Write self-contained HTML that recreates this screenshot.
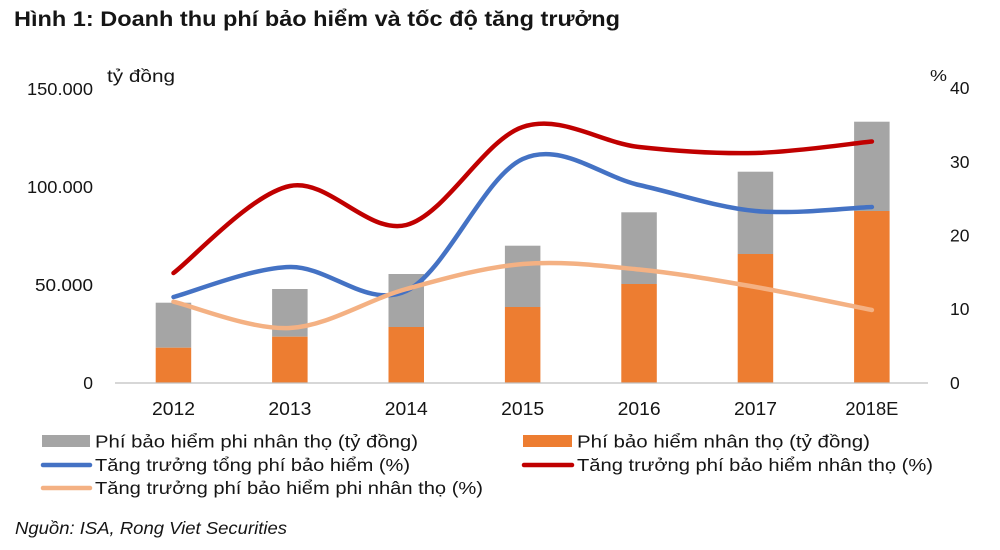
<!DOCTYPE html>
<html>
<head>
<meta charset="utf-8">
<style>
  html, body { margin: 0; padding: 0; background: #ffffff; }
  svg { display: block; }
  text { font-family: "Liberation Sans", "DejaVu Sans", sans-serif; fill: #151515; }
</style>
</head>
<body>
<svg width="1000" height="550" viewBox="0 0 1000 550" xmlns="http://www.w3.org/2000/svg">
  <rect x="0" y="0" width="1000" height="550" fill="#ffffff"/>

  <!-- Title -->
  <text x="14" y="26" font-size="21.5" font-weight="bold" fill="#111" textLength="606" lengthAdjust="spacingAndGlyphs">Hình 1: Doanh thu phí bảo hiểm và tốc độ tăng trưởng</text>

  <!-- Axis unit labels -->
  <text x="107" y="82" font-size="17.5" textLength="68" lengthAdjust="spacingAndGlyphs">tỷ đồng</text>
  <text x="930" y="81" font-size="16" textLength="17" lengthAdjust="spacingAndGlyphs">%</text>

  <!-- Left axis labels -->
  <g font-size="17.5" text-anchor="end">
    <text x="93" y="95" textLength="66" lengthAdjust="spacingAndGlyphs">150.000</text>
    <text x="93" y="193" textLength="66" lengthAdjust="spacingAndGlyphs">100.000</text>
    <text x="93" y="291" textLength="58" lengthAdjust="spacingAndGlyphs">50.000</text>
    <text x="93" y="389">0</text>
  </g>

  <!-- Right axis labels -->
  <g font-size="17.5">
    <text x="950" y="94">40</text>
    <text x="950" y="168">30</text>
    <text x="950" y="241.5">20</text>
    <text x="950" y="315">10</text>
    <text x="950" y="389">0</text>
  </g>

  <!-- Bars: gray (non-life) stacked above orange (life) -->
  <g>
    <rect x="155.7" y="302.7" width="35.5" height="45" fill="#a5a5a5"/>
    <rect x="155.7" y="347.7" width="35.5" height="35.3" fill="#ed7d31"/>

    <rect x="272.1" y="289" width="35.5" height="47.7" fill="#a5a5a5"/>
    <rect x="272.1" y="336.7" width="35.5" height="46.3" fill="#ed7d31"/>

    <rect x="388.5" y="274" width="35.5" height="53" fill="#a5a5a5"/>
    <rect x="388.5" y="327" width="35.5" height="56" fill="#ed7d31"/>

    <rect x="504.9" y="245.7" width="35.5" height="61.3" fill="#a5a5a5"/>
    <rect x="504.9" y="307" width="35.5" height="76" fill="#ed7d31"/>

    <rect x="621.3" y="212.3" width="35.5" height="71.7" fill="#a5a5a5"/>
    <rect x="621.3" y="284" width="35.5" height="99" fill="#ed7d31"/>

    <rect x="737.7" y="171.7" width="35.5" height="82.3" fill="#a5a5a5"/>
    <rect x="737.7" y="254" width="35.5" height="129" fill="#ed7d31"/>

    <rect x="854.1" y="121.7" width="35.5" height="89.3" fill="#a5a5a5"/>
    <rect x="854.1" y="211" width="35.5" height="172" fill="#ed7d31"/>
  </g>

  <!-- Baseline -->
  <line x1="115" y1="383" x2="928" y2="383" stroke="#bfbfbf" stroke-width="1.3"/>

  <!-- Lines -->
  <g fill="none" stroke-width="4.5" stroke-linecap="round" stroke-linejoin="round">
    <!-- Blue: total growth -->
    <path stroke="#4472c4" d="M173.5,297 C192.9,292 251.1,268 289.9,267 C328.7,266 367.5,309 406.3,291 C445.1,273 483.9,176.67 522.7,159 C561.5,141.33 600.3,176.33 639.1,185 C677.9,193.67 716.7,207.33 755.5,211 C794.3,214.67 852.5,207.67 871.9,207"/>
    <!-- Red: life growth -->
    <path stroke="#c00000" d="M173.5,273 C192.9,258.5 251.1,194 289.9,186 C328.7,178 367.5,234.8 406.3,225 C445.1,215.2 483.9,140 522.7,127 C561.5,114 600.3,142.7 639.1,147 C677.9,151.3 716.7,153.9 755.5,153 C794.3,152.1 852.5,143.4 871.9,141.5"/>
    <!-- Light orange: non-life growth -->
    <path stroke="#f4b183" d="M173.5,301.7 C192.9,306.1 251.1,330.1 289.9,328 C328.7,325.9 367.5,299.7 406.3,289 C445.1,278.3 483.9,267.3 522.7,264 C561.5,260.75 600.3,265.7 639.1,269.5 C677.9,273.3 716.7,280.3 755.5,287 C794.3,293.75 852.5,306.2 871.9,310"/>
  </g>

  <!-- X axis labels -->
  <g font-size="18" text-anchor="middle">
    <text x="173.5" y="415" textLength="43" lengthAdjust="spacingAndGlyphs">2012</text>
    <text x="289.9" y="415" textLength="43" lengthAdjust="spacingAndGlyphs">2013</text>
    <text x="406.3" y="415" textLength="43" lengthAdjust="spacingAndGlyphs">2014</text>
    <text x="522.7" y="415" textLength="43" lengthAdjust="spacingAndGlyphs">2015</text>
    <text x="639.1" y="415" textLength="43" lengthAdjust="spacingAndGlyphs">2016</text>
    <text x="755.5" y="415" textLength="43" lengthAdjust="spacingAndGlyphs">2017</text>
    <text x="871.9" y="415" textLength="53" lengthAdjust="spacingAndGlyphs">2018E</text>
  </g>

  <!-- Legend -->
  <rect x="42" y="435" width="48" height="12" fill="#a5a5a5"/>
  <text x="95" y="447.5" font-size="17.5" textLength="323" lengthAdjust="spacingAndGlyphs">Phí bảo hiểm phi nhân thọ (tỷ đồng)</text>

  <rect x="523" y="435" width="49" height="12" fill="#ed7d31"/>
  <text x="577" y="447.5" font-size="17.5" textLength="293" lengthAdjust="spacingAndGlyphs">Phí bảo hiểm nhân thọ (tỷ đồng)</text>

  <line x1="43" y1="465" x2="90" y2="465" stroke="#4472c4" stroke-width="4.5" stroke-linecap="round"/>
  <text x="95" y="471" font-size="17.5" textLength="315" lengthAdjust="spacingAndGlyphs">Tăng trưởng tổng phí bảo hiểm (%)</text>

  <line x1="524" y1="465" x2="572" y2="465" stroke="#c00000" stroke-width="4.5" stroke-linecap="round"/>
  <text x="577" y="471" font-size="17.5" textLength="356" lengthAdjust="spacingAndGlyphs">Tăng trưởng phí bảo hiểm nhân thọ (%)</text>

  <line x1="43" y1="488" x2="90" y2="488" stroke="#f4b183" stroke-width="4.5" stroke-linecap="round"/>
  <text x="95" y="494" font-size="17.5" textLength="388" lengthAdjust="spacingAndGlyphs">Tăng trưởng phí bảo hiểm phi nhân thọ (%)</text>

  <!-- Source -->
  <text x="15" y="534" font-size="17.5" font-style="italic" textLength="272" lengthAdjust="spacingAndGlyphs">Nguồn: ISA, Rong Viet Securities</text>
</svg>
</body>
</html>
